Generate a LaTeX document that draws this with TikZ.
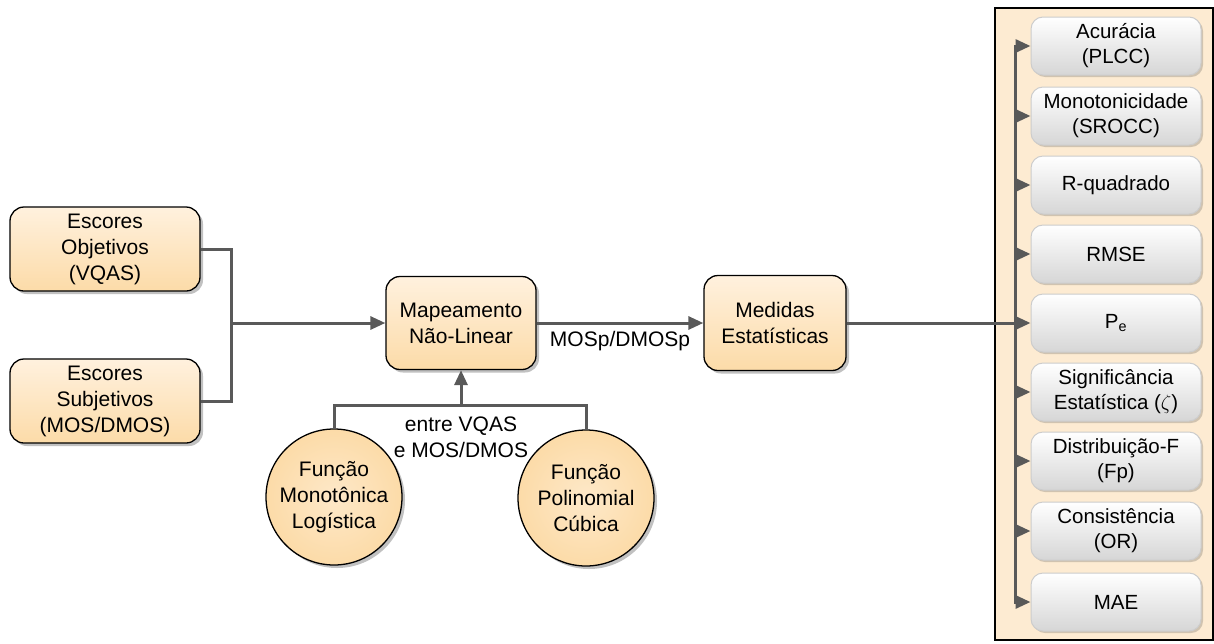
\documentclass[tikz,border=0pt]{standalone}
\usepackage{fontspec}
\setmainfont{Liberation Sans}
\usetikzlibrary{positioning, arrows.meta, shadows}

\definecolor{lineGray}{HTML}{595959}
\definecolor{boxTop}{HTML}{FFF1DE}
\definecolor{boxBot}{HTML}{FCDBA8}
\definecolor{panelFill}{HTML}{FDEBD2}
\definecolor{metricBot}{HTML}{D6D6D6}

\begin{document}
\begin{tikzpicture}[
		x=1pt, y=-1pt,
		>={Triangle[length=15pt, width=13pt]},
		every node/.style={font=\fontsize{21}{26}\selectfont, align=center},
		stage/.style={draw=black, line width=1.3pt, rounded corners=14pt,
			top color=boxTop, bottom color=boxBot,
			drop shadow={shadow xshift=3pt, shadow yshift=-3pt, opacity=0.35, fill=black!70}},
		func/.style={circle, draw=black, line width=1.3pt, minimum size=136pt,
			inner sep=0pt, inner color=boxTop!60!boxBot, outer color=boxBot,
			drop shadow={shadow xshift=3pt, shadow yshift=-3pt, opacity=0.35, fill=black!70}},
		metric/.style={draw=black!20, line width=1pt, rounded corners=12pt,
			minimum width=170pt, minimum height=58pt, inner sep=2pt,
			top color=white, bottom color=metricBot, font=\fontsize{20.5}{25}\selectfont,
			drop shadow={shadow xshift=2pt, shadow yshift=-2pt, opacity=0.25, fill=black!70}},
		link/.style={->, draw=lineGray, line width=3pt},
		wire/.style={draw=lineGray, line width=3pt},
		note/.style={inner sep=2pt}
		]
		\useasboundingbox (0,0) rectangle (1214,643);
		
		% --- panel on the right ---
		\node[draw=black, line width=1.3pt, fill=panelFill, minimum width=218pt,
			minimum height=632pt, inner sep=0pt] (panel) at (1104,324) {};
		
		% --- inputs ---
		\node[stage, minimum width=190pt, minimum height=84pt] (obj) at (105,249) {Escores\\Objetivos\\(VQAS)};
		\node[stage, minimum width=190pt, minimum height=84pt] (sub) at (105,401) {Escores\\Subjetivos\\(MOS/DMOS)};
		
		% --- mapping and measures ---
		\node[stage, minimum width=150pt, minimum height=93pt] (map) at (461,323) {Mapeamento\\Não-Linear};
		\node[stage, minimum width=142pt, minimum height=95pt] (med) at (775,323) {Medidas\\Estatísticas};
		
		% --- fitting functions ---
		\node[func] (logi) at (334,497) {Função\\Monotônica\\Logística};
		\node[func] (cubi) at (586,498) {Função\\Polinomial\\Cúbica};
		\node[note] (between) at (461,437) {entre VQAS\\e MOS/DMOS};
		
		% --- metrics ---
		\node[metric] (m1) at (1116,46) {Acurácia\\(PLCC)};
		\node[metric] (m2) at (1116,116) {Monotonicidade\\(SROCC)};
		\node[metric] (m3) at (1116,185) {R-quadrado};
		\node[metric] (m4) at (1116,254) {RMSE};
		\node[metric] (m5) at (1116,323) {P\textsubscript{e}};
		\node[metric] (m6) at (1116,392) {Significância\\Estatística ($\zeta$)};
		\node[metric] (m7) at (1116,461) {Distribuição-F\\(Fp)};
		\node[metric] (m8) at (1116,531) {Consistência\\(OR)};
		\node[metric] (m9) at (1116,602) {MAE};
		
		% --- connectors ---
		\coordinate (join) at (231,323);
		\coordinate (fork) at (461,405);
		\coordinate (bus) at (1015,323);
		
		\draw[wire] (obj.east) -| (join);
		\draw[wire] (sub.east) -| (join);
		\draw[link] (join) -- (map.west);
		\draw[link] (map.east) -- node[below=3pt] {MOSp/DMOSp} (med.west);
		
		\draw[wire] (logi.north) |- (fork);
		\draw[wire] (cubi.north) |- (fork);
		\draw[link] (fork) -- (map.south);
		
		\draw[wire, line cap=rect] (m1.west -| bus) -- (m9.west -| bus);
		\draw[link] (med.east) -- (m5.west);
		\foreach \m in {m1,m2,m3,m4,m6,m7,m8,m9}
			\draw[link] (\m.west -| bus) -- (\m.west);
		
	\end{tikzpicture}
\end{document}
